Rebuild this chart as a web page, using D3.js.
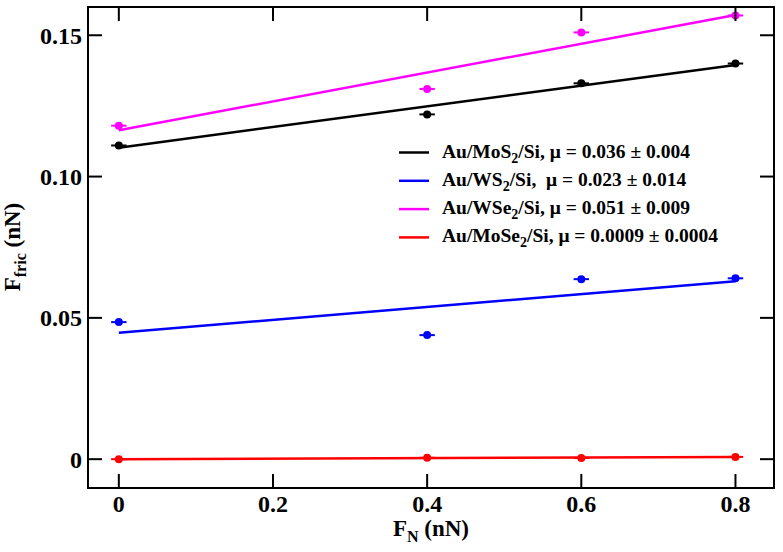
<!DOCTYPE html>
<html><head><meta charset="utf-8">
<script src="https://cdn.jsdelivr.net/npm/d3@7"></script>
<style>body{margin:0;background:#fff}svg{display:block}svg text{font-family:"Liberation Serif";font-weight:bold}</style>
</head><body>
<svg id="c" width="783" height="552"></svg>
<script>
const xs = [0, 0.4, 0.6, 0.8];
const mos2 = [0.111, 0.122, 0.133, 0.140];
const ws2 = [0.0485, 0.0439, 0.0637, 0.0640];
const wse2 = [0.118, 0.131, 0.151, 0.157];
const mose2 = [0.0000, 0.0005, 0.0004, 0.0008];
const fitMos2 = [0.1102, 0.1395];
const fitWs2 = [0.0447, 0.0630];
const fitWse2 = [0.1164, 0.1572];
const fitMose2 = [0.0000, 0.0008];
const xErr = 0.01;
const xTicks = [0, 0.2, 0.4, 0.6, 0.8];
const yTicks = [0, 0.05, 0.10, 0.15];
const yTickLabels = ["0", "0.05", "0.10", "0.15"];
const series = [
  {name:"MoS", sub:"2", mu:"0.036 ± 0.004", color:"#000000", ys:mos2, fit:fitMos2, gap:""},
  {name:"WS", sub:"2", mu:"0.023 ± 0.014", color:"#0000ff", ys:ws2, fit:fitWs2, gap:"\u00a0"},
  {name:"WSe", sub:"2", mu:"0.051 ± 0.009", color:"#ff00ff", ys:wse2, fit:fitWse2, gap:""},
  {name:"MoSe", sub:"2", mu:"0.0009 ± 0.0004", color:"#ff0000", ys:mose2, fit:fitMose2, gap:""}
];

const L=88, R=774, T=7, B=488;
const x = d3.scaleLinear().domain([-0.04, 0.85]).range([L, R]);
const y = d3.scaleLinear().domain([-0.0102, 0.16]).range([B, T]);
const svg = d3.select("#c");

const plotOrder = [series[3], series[1], series[0], series[2]];
plotOrder.forEach(s => {
  svg.append("line").attr("x1", x(0)).attr("x2", x(0.8))
    .attr("y1", y(s.fit[0])).attr("y2", y(s.fit[1]))
    .attr("stroke", s.color).attr("stroke-width", 2.5);
  xs.forEach((xv,i) => {
    svg.append("line").attr("x1", x(xv-xErr)).attr("x2", x(xv+xErr))
      .attr("y1", y(s.ys[i])).attr("y2", y(s.ys[i]))
      .attr("stroke", s.color).attr("stroke-width", 2);
    svg.append("circle").attr("cx", x(xv)).attr("cy", y(s.ys[i])).attr("r", 4)
      .attr("fill", s.color);
  });
});

svg.append("rect").attr("x", L).attr("y", T).attr("width", R-L).attr("height", B-T)
  .attr("fill","none").attr("stroke","#000").attr("stroke-width",2);

const tl = 14;
const ax = svg.append("g");
xTicks.forEach(t => {
  ax.append("line").attr("x1", x(t)).attr("x2", x(t)).attr("y1", B).attr("y2", B-tl).attr("stroke","#000").attr("stroke-width",2);
  ax.append("line").attr("x1", x(t)).attr("x2", x(t)).attr("y1", T).attr("y2", T+tl).attr("stroke","#000").attr("stroke-width",2);
  ax.append("text").attr("x", x(t)).attr("y", 512).attr("text-anchor","middle").attr("font-size",24).text(d3.format("")(t));
});
yTicks.forEach((t,i) => {
  ax.append("line").attr("x1", L).attr("x2", L+tl).attr("y1", y(t)).attr("y2", y(t)).attr("stroke","#000").attr("stroke-width",2);
  ax.append("line").attr("x1", R).attr("x2", R-tl).attr("y1", y(t)).attr("y2", y(t)).attr("stroke","#000").attr("stroke-width",2);
  ax.append("text").attr("x", 82).attr("y", y(t)+8.5).attr("text-anchor","end").attr("font-size",24).text(yTickLabels[i]);
});

const xt = svg.append("text").attr("x", 431).attr("y", 536).attr("text-anchor","middle").attr("font-size",23);
xt.append("tspan").text("F");
xt.append("tspan").attr("font-size",16).attr("dy",6).text("N");
xt.append("tspan").attr("dy",-6).text(" (nN)");

const yt = svg.append("text").attr("transform","translate(20,247) rotate(-90)").attr("text-anchor","middle").attr("font-size",23);
yt.append("tspan").text("F");
yt.append("tspan").attr("font-size",16).attr("dy",6).text("fric");
yt.append("tspan").attr("dy",-6).text(" (nN)");

series.forEach((s,i) => {
  const yy = 152.5 + i*28.3;
  svg.append("line").attr("x1",399).attr("x2",429).attr("y1",yy).attr("y2",yy).attr("stroke",s.color).attr("stroke-width",2.5);
  const t = svg.append("text").attr("x",442).attr("y",yy+5).attr("font-size",19.5);
  t.append("tspan").text("Au/" + s.name);
  t.append("tspan").attr("font-size",14).attr("dy",5).text(s.sub);
  t.append("tspan").attr("dy",-5).text("/Si," + s.gap + " μ = " + s.mu);
});
</script>
</body></html>
